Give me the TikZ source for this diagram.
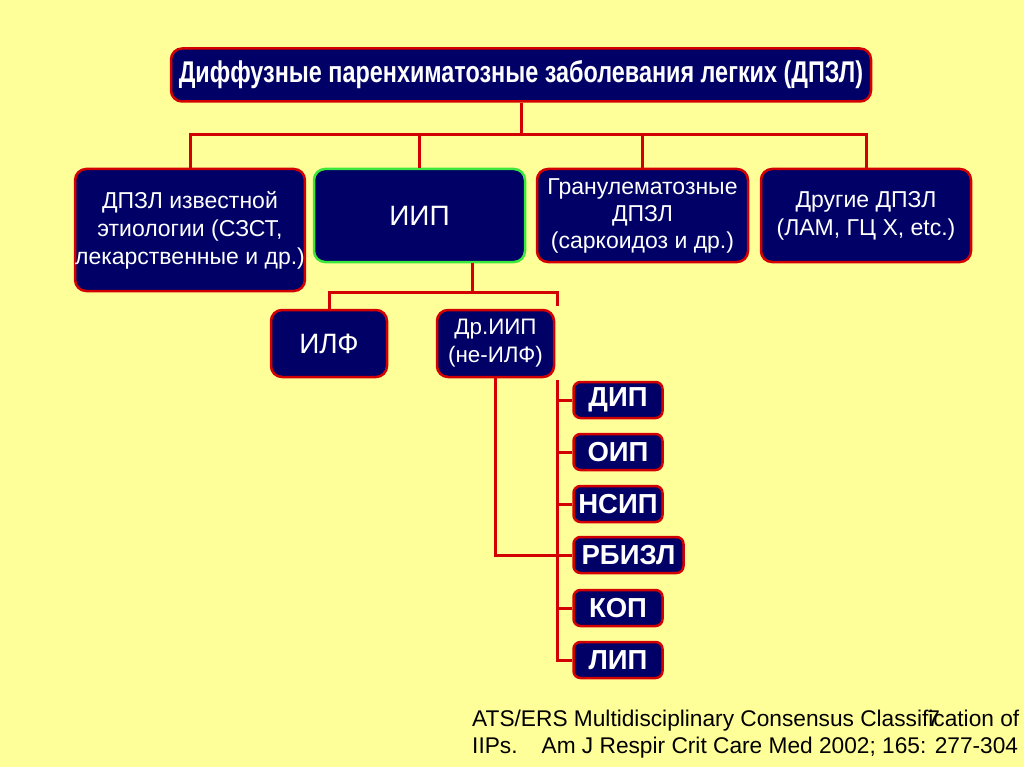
\documentclass[tikz,border=0pt]{standalone}
\usepackage{fontspec}
\setmainfont{Liberation Sans}
\newfontfamily\narrowfont[FakeStretch=0.78]{Liberation Sans}
\definecolor{bg}{RGB}{255,255,153}
\definecolor{navy}{RGB}{0,0,102}
\definecolor{dred}{RGB}{210,0,0}
\definecolor{lgreen}{RGB}{60,230,60}
\begin{document}
\begin{tikzpicture}[x=1pt,y=-1pt,
  box/.style={draw=dred, line width=2.5pt, fill=navy, rounded corners=11pt, text=white, align=center, inner sep=0pt},
  conn/.style={draw=dred, line width=3pt},
  mid/.style={font=\fontsize{23}{28}\selectfont},
  small/.style={box, minimum height=36pt, font=\fontsize{27.5}{30}\selectfont\bfseries, rounded corners=7pt},
  foot/.style={anchor=base west, inner sep=0pt, font=\fontsize{22.7}{27}\selectfont}]
\useasboundingbox[fill=bg] (0,0) rectangle (1024,767);
% top
\node[box, minimum width=700pt, minimum height=53pt, font=\narrowfont\fontsize{30}{32}\selectfont\bfseries] (top) at (521,75) {Диффузные паренхиматозные заболевания легких (ДПЗЛ)};
% second row
\node[box, mid, minimum width=225pt, minimum height=122pt] (b1) at (190,230) {ДПЗЛ известной\\этиологии (СЗСТ,\\лекарственные и др.)};
\node[box, draw=lgreen, minimum width=211pt, minimum height=93pt, font=\fontsize{28}{30}\selectfont] (b2) at (419.5,215.5) {ИИП};
\node[box, mid, minimum width=211pt, minimum height=93pt, font=\fontsize{23}{27}\selectfont] (b3) at (642.5,215.5) {Гранулематозные\\ДПЗЛ\\(саркоидоз и др.)};
\node[box, mid, minimum width=210pt, minimum height=93pt] (b4) at (866,215.5) {Другие ДПЗЛ\\(ЛАМ, ГЦ Х, etc.)};
% third row
\node[box, minimum width=116pt, minimum height=67pt, font=\fontsize{28}{30}\selectfont] (ilf) at (329,343.5) {ИЛФ};
\node[box, minimum width=117pt, minimum height=67pt, font=\fontsize{22.4}{28}\selectfont] (dr) at (495.5,343.5) {Др.ИИП\\(не-ИЛФ)};
% small boxes
\node[small, minimum width=89pt] (s1) at (618,400) {ДИП};
\node[small, minimum width=89pt] (s2) at (618,452) {ОИП};
\node[small, minimum width=89pt] (s3) at (618,504) {НСИП};
\node[small, minimum width=110pt] (s4) at (628.5,555) {РБИЗЛ};
\node[small, minimum width=89pt] (s5) at (618,608) {КОП};
\node[small, minimum width=89pt] (s6) at (618,660) {ЛИП};
% connectors
\coordinate (busL) at (190,135);
\coordinate (busR) at (866,135);
\draw[conn] (top.south) -- (top.south |- busL);
\draw[conn] (b1.north) -- (b1.north |- busL) -- (busR) -- (b4.north);
\draw[conn] (b2.north) -- (b2.north |- busL);
\draw[conn] (b3.north) -- (b3.north |- busL);
\coordinate (j1) at (472,292);
\coordinate (j2) at (557,292);
\coordinate (j3) at (557,306);
\draw[conn] (b2.south -| j1) -- (j1);
\draw[conn] (ilf.north) -- (ilf.north |- j1) -- (j2) -- (j3);
\coordinate (v1) at (557,380);
\draw[conn] (v1) -- (v1 |- s6.west) -- (s6.west);
\draw[conn] (s1.west) -- (s1.west -| v1);
\draw[conn] (s2.west) -- (s2.west -| v1);
\draw[conn] (s3.west) -- (s3.west -| v1);
\draw[conn] (s4.west) -- (s4.west -| v1);
\draw[conn] (s5.west) -- (s5.west -| v1);
\draw[conn] (dr.south) -- (dr.south |- s4.west) -- (s4.west -| v1);
% footer
\node[foot] (foot1) at (472,726) {ATS/ERS Multidisciplinary Consensus Classif\rlap{\kern-1pt 7}ication of};
\node[foot] (foot2) at (472,753) {IIPs.\hspace{24pt}Am J Respir Crit Care Med 2002; 165: 277-304};
\end{tikzpicture}
\end{document}
